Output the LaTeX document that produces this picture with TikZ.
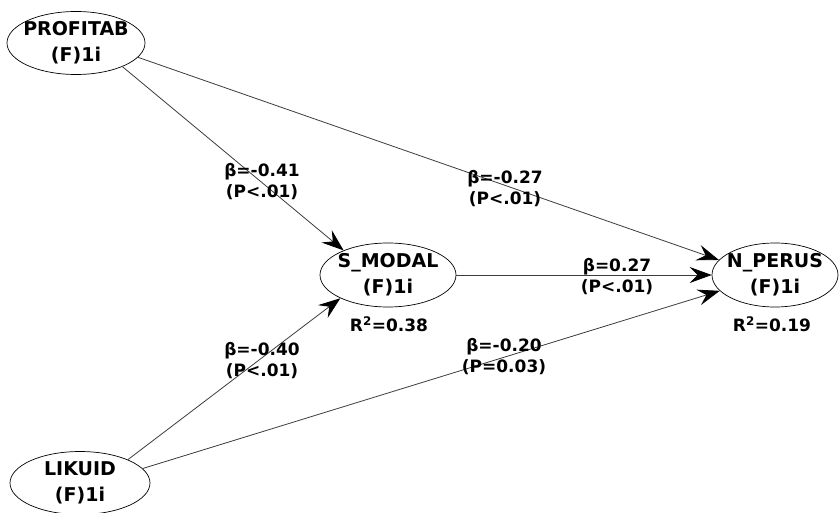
\documentclass[tikz,border=0pt]{standalone}
\usepackage{fontspec}
\setmainfont{DejaVu Sans}
\usetikzlibrary{positioning, arrows.meta, shapes.geometric}
\definecolor{pathgray}{RGB}{60,60,60}

\begin{document}
\begin{tikzpicture}[x=1pt,y=-1pt,
  latent/.style={draw, ellipse, line width=0.7pt, inner sep=-12pt, minimum width=138pt, minimum height=63pt, align=center, font=\fontsize{19}{26}\selectfont\bfseries},
  coef/.style={align=center, font=\fontsize{17}{21}\selectfont\bfseries},
  rsq/.style={font=\fontsize{17}{20}\selectfont\bfseries},
  effect/.style={-{Stealth[length=22pt, width=16pt, inset=8pt, color=black]}, draw=pathgray, line width=0.8pt}]
  \useasboundingbox (0,0) rectangle (840,513);

  \node[latent] (profitab) at (76,43) {PROFITAB\\(F)1i};
  \node[latent, minimum width=136pt, minimum height=64pt] (smodal) at (388,275) {S\_MODAL\\(F)1i};
  \node[latent, minimum width=126pt, minimum height=64pt] (nperus) at (775,275) {N\_PERUS\\(F)1i};
  \node[latent, minimum width=140pt] (likuid) at (80,483) {LIKUID\\(F)1i};

  \node[rsq] (rsmodal) at (389,324) {R\textsuperscript{2}=0.38};
  \node[rsq] (rnperus) at (772,324) {R\textsuperscript{2}=0.19};

  \draw[effect] (profitab.-27) -- (smodal.151);
  \draw[effect] (profitab.-13) -- (nperus.165);
  \draw[effect] (smodal.east) -- (nperus.west);
  \draw[effect] (likuid.26) -- (smodal.-154);
  \draw[effect] (likuid.13) -- (nperus.-164);

  \node[coef] (c1) at (262,182) {β=-0.41\\(P<.01)};
  \node[coef] (c2) at (505,189) {β=-0.27\\(P<.01)};
  \node[coef] (c3) at (617,277) {β=0.27\\(P<.01)};
  \node[coef] (c4) at (262,361) {β=-0.40\\(P<.01)};
  \node[coef] (c5) at (504,357) {β=-0.20\\(P=0.03)};
\end{tikzpicture}
\end{document}
